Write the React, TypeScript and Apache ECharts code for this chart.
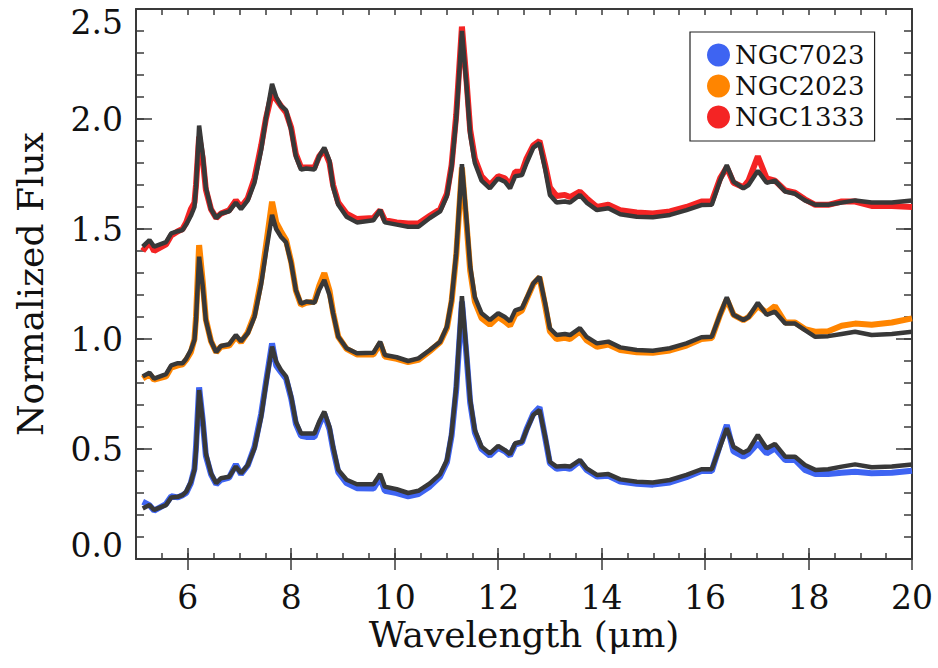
import React, { useEffect, useRef } from 'react';
import * as echarts from 'echarts';

// Wavelength grid (micron) shared by all spectra
const WAVELENGTH = [
  5.13, 5.26, 5.35, 5.58, 5.68, 5.81, 5.90, 5.97, 6.06, 6.13,
  6.16, 6.22, 6.29, 6.35, 6.45, 6.55, 6.64, 6.80, 6.93, 7.03,
  7.16, 7.29, 7.42, 7.51, 7.63, 7.71, 7.80, 7.90, 8.00, 8.09,
  8.19, 8.29, 8.45, 8.54, 8.64, 8.74, 8.81, 8.91, 9.07, 9.27,
  9.59, 9.72, 9.81, 10.04, 10.26, 10.46, 10.68, 10.88, 11.01, 11.10,
  11.19, 11.30, 11.39, 11.46, 11.55, 11.68, 11.84, 12.00, 12.13, 12.23,
  12.33, 12.46, 12.55, 12.68, 12.80, 12.91, 13.00, 13.13, 13.29, 13.39,
  13.58, 13.71, 13.91, 14.13, 14.36, 14.68, 14.99, 15.32, 15.64, 15.93,
  16.13, 16.29, 16.42, 16.55, 16.74, 16.84, 17.02, 17.19, 17.35, 17.55,
  17.74, 17.93, 18.13, 18.38, 18.64, 18.90, 19.22, 19.61, 20.0,
];

// Observed spectra (coloured)
const NGC1333 = [
  1.40, 1.44, 1.40, 1.43, 1.47, 1.49, 1.50, 1.53, 1.59, 1.62,
  1.70, 1.92, 1.82, 1.68, 1.59, 1.55, 1.57, 1.585, 1.63, 1.60,
  1.64, 1.73, 1.88, 2.00, 2.12, 2.09, 2.06, 2.03, 1.96, 1.84,
  1.78, 1.78, 1.78, 1.83, 1.86, 1.80, 1.70, 1.62, 1.57, 1.545,
  1.55, 1.585, 1.54, 1.53, 1.525, 1.525, 1.56, 1.59, 1.66, 1.79,
  2.02, 2.42, 2.17, 1.95, 1.82, 1.74, 1.70, 1.74, 1.73, 1.70,
  1.76, 1.76, 1.82, 1.88, 1.90, 1.79, 1.69, 1.65, 1.655, 1.645,
  1.67, 1.64, 1.60, 1.61, 1.585, 1.575, 1.57, 1.58, 1.60, 1.625,
  1.625, 1.73, 1.78, 1.71, 1.69, 1.72, 1.83, 1.73, 1.72, 1.675,
  1.665, 1.635, 1.61, 1.61, 1.625, 1.625, 1.605, 1.605, 1.60,
];
const NGC2023 = [
  0.82, 0.84, 0.815, 0.83, 0.87, 0.88, 0.885, 0.905, 0.94, 1.00,
  1.10, 1.427, 1.26, 1.09, 0.99, 0.94, 0.965, 0.97, 1.01, 0.985,
  1.03, 1.11, 1.27, 1.42, 1.624, 1.53, 1.49, 1.45, 1.35, 1.22,
  1.155, 1.165, 1.17, 1.24, 1.30, 1.22, 1.12, 1.01, 0.955, 0.93,
  0.93, 0.98, 0.92, 0.91, 0.895, 0.905, 0.945, 0.985, 1.05, 1.17,
  1.38, 1.78, 1.52, 1.31, 1.17, 1.095, 1.065, 1.10, 1.08, 1.06,
  1.11, 1.13, 1.18, 1.25, 1.28, 1.15, 1.035, 1.00, 1.005, 1.00,
  1.035, 0.995, 0.965, 0.975, 0.95, 0.94, 0.937, 0.948, 0.97, 1.00,
  1.005, 1.11, 1.18, 1.11, 1.086, 1.10, 1.15, 1.12, 1.15, 1.075,
  1.075, 1.045, 1.033, 1.035, 1.06, 1.07, 1.065, 1.075, 1.094,
];
const NGC7023 = [
  0.26, 0.245, 0.22, 0.25, 0.285, 0.28, 0.29, 0.30, 0.345, 0.41,
  0.51, 0.78, 0.63, 0.47, 0.385, 0.34, 0.36, 0.37, 0.43, 0.385,
  0.425, 0.51, 0.66, 0.80, 0.98, 0.88, 0.85, 0.82, 0.73, 0.615,
  0.56, 0.555, 0.555, 0.61, 0.66, 0.59, 0.50, 0.395, 0.345, 0.322,
  0.32, 0.37, 0.31, 0.30, 0.285, 0.295, 0.33, 0.375, 0.44, 0.56,
  0.77, 1.17, 0.92, 0.71, 0.575, 0.50, 0.47, 0.505, 0.49, 0.47,
  0.52, 0.53, 0.59, 0.66, 0.69, 0.55, 0.435, 0.41, 0.415, 0.41,
  0.445, 0.405, 0.375, 0.378, 0.352, 0.342, 0.338, 0.348, 0.372, 0.40,
  0.40, 0.52, 0.609, 0.489, 0.465, 0.48, 0.526, 0.48, 0.503, 0.45,
  0.45, 0.405, 0.386, 0.386, 0.392, 0.397, 0.39, 0.392, 0.401,
];

// Model fits (dark overlays)
const MODEL_1333 = [
  1.42, 1.45, 1.42, 1.44, 1.48, 1.49, 1.495, 1.52, 1.56, 1.60,
  1.69, 1.97, 1.84, 1.69, 1.59, 1.55, 1.57, 1.58, 1.62, 1.59,
  1.63, 1.71, 1.86, 2.00, 2.16, 2.10, 2.06, 2.04, 1.95, 1.83,
  1.77, 1.775, 1.77, 1.83, 1.87, 1.81, 1.69, 1.61, 1.556, 1.53,
  1.54, 1.586, 1.53, 1.52, 1.51, 1.51, 1.55, 1.58, 1.65, 1.78,
  2.00, 2.40, 2.15, 1.93, 1.80, 1.72, 1.685, 1.73, 1.715, 1.685,
  1.74, 1.745, 1.80, 1.87, 1.89, 1.77, 1.655, 1.62, 1.625, 1.62,
  1.655, 1.62, 1.586, 1.594, 1.567, 1.556, 1.553, 1.564, 1.586, 1.609,
  1.61, 1.72, 1.79, 1.715, 1.685, 1.70, 1.765, 1.71, 1.72, 1.67,
  1.66, 1.63, 1.61, 1.61, 1.62, 1.63, 1.62, 1.62, 1.63,
];
const MODEL_2023 = [
  0.83, 0.847, 0.82, 0.84, 0.88, 0.89, 0.89, 0.91, 0.95, 0.995,
  1.086, 1.374, 1.24, 1.086, 0.99, 0.94, 0.968, 0.976, 1.018, 0.99,
  1.026, 1.10, 1.25, 1.39, 1.564, 1.50, 1.465, 1.44, 1.344, 1.223,
  1.16, 1.17, 1.165, 1.223, 1.268, 1.20, 1.117, 1.01, 0.958, 0.935,
  0.938, 0.988, 0.927, 0.917, 0.90, 0.912, 0.95, 0.988, 1.056, 1.177,
  1.39, 1.795, 1.54, 1.33, 1.19, 1.117, 1.086, 1.117, 1.10, 1.08,
  1.13, 1.14, 1.185, 1.253, 1.283, 1.162, 1.049, 1.018, 1.023, 1.018,
  1.049, 1.01, 0.98, 0.988, 0.962, 0.95, 0.947, 0.958, 0.98, 1.008,
  1.01, 1.11, 1.19, 1.11, 1.086, 1.10, 1.165, 1.11, 1.124, 1.07,
  1.07, 1.04, 1.01, 1.013, 1.023, 1.033, 1.018, 1.023, 1.033,
];
const MODEL_7023 = [
  0.23, 0.245, 0.223, 0.245, 0.28, 0.283, 0.29, 0.306, 0.35, 0.405,
  0.495, 0.768, 0.63, 0.48, 0.39, 0.344, 0.367, 0.374, 0.42, 0.39,
  0.427, 0.503, 0.647, 0.79, 0.965, 0.897, 0.86, 0.83, 0.738, 0.624,
  0.571, 0.571, 0.571, 0.624, 0.67, 0.60, 0.51, 0.405, 0.36, 0.34,
  0.34, 0.386, 0.329, 0.317, 0.30, 0.31, 0.344, 0.386, 0.45, 0.571,
  0.783, 1.195, 0.935, 0.723, 0.586, 0.51, 0.48, 0.514, 0.495, 0.476,
  0.526, 0.533, 0.586, 0.655, 0.677, 0.556, 0.442, 0.42, 0.423, 0.42,
  0.45, 0.412, 0.382, 0.386, 0.362, 0.351, 0.348, 0.359, 0.382, 0.408,
  0.408, 0.51, 0.594, 0.51, 0.483, 0.495, 0.564, 0.503, 0.523, 0.465,
  0.465, 0.427, 0.405, 0.408, 0.42, 0.43, 0.417, 0.42, 0.43,
];

// Integer positions along the wavelength axis (major ticks / labels on even ones)
const X_MAJOR_TICKS = ['5', '6', '7', '8', '9', '10', '11', '12', '13', '14', '15', '16', '17', '18', '19', '20'];

const FONT = 'DejaVu Serif';
const FRAME = '#3a3a3a';
const TEXT = '#111111';
const DARK = '#383838';

export default function App() {
  const ref = useRef<HTMLDivElement>(null);

  useEffect(() => {
    document.body.style.margin = '0';
    const chart = echarts.init(ref.current as HTMLDivElement, null, { renderer: 'svg' });
    const pair = (ys: number[]) => WAVELENGTH.map((x, i) => [x, ys[i]]);
    const isEven = (_i: number, v: string) => Number(v) % 2 === 0;

    const valueX = (pos: 'bottom' | 'top', withName: boolean) => ({
      type: 'value',
      position: pos,
      min: 5,
      max: 20,
      interval: 0.5,
      name: withName ? 'Wavelength (μm)' : '',
      nameLocation: 'middle',
      nameGap: 61,
      nameTextStyle: { fontFamily: FONT, fontSize: 36, color: TEXT, lineHeight: 28 },
      axisLine: { show: true, onZero: false, lineStyle: { color: FRAME, width: 2 } },
      axisTick: { show: true, inside: true, length: 6, lineStyle: { color: FRAME, width: 1.5 } },
      axisLabel: { show: false },
      splitLine: { show: false },
    });
    const majorX = (pos: 'bottom' | 'top', labels: boolean) => ({
      type: 'category',
      position: pos,
      data: X_MAJOR_TICKS,
      boundaryGap: false,
      axisLine: { show: false },
      axisTick: { show: true, inside: true, length: 11, interval: isEven, lineStyle: { color: FRAME, width: 1.5 } },
      axisLabel: {
        show: labels,
        interval: isEven,
        margin: 26,
        fontFamily: FONT,
        fontSize: 33,
        lineHeight: 25,
        color: TEXT,
      },
      splitLine: { show: false },
    });
    const minorY = (pos: 'left' | 'right') => ({
      type: 'value',
      position: pos,
      min: 0,
      max: 2.5,
      interval: 0.1,
      axisLine: { show: true, onZero: false, lineStyle: { color: FRAME, width: 2 } },
      axisTick: { show: true, inside: true, length: 8, lineStyle: { color: FRAME, width: 1.5 } },
      axisLabel: { show: false },
      splitLine: { show: false },
    });
    const majorY = (pos: 'left' | 'right', labels: boolean) => ({
      type: 'value',
      position: pos,
      min: 0,
      max: 2.5,
      interval: 0.5,
      name: labels ? 'Normalized Flux' : '',
      nameLocation: 'middle',
      nameGap: 88,
      nameTextStyle: { fontFamily: FONT, fontSize: 36, color: TEXT },
      axisLine: { show: false },
      axisTick: { show: true, inside: true, length: 16, lineStyle: { color: FRAME, width: 1.5 } },
      axisLabel: {
        show: labels,
        margin: 13,
        fontFamily: FONT,
        fontSize: 33,
        color: TEXT,
        formatter: (v: number) => {
          const s = v.toFixed(1);
          if (v === 0) return '{lo|' + s + '}';
          if (v === 2.5) return '{hi|' + s + '}';
          return s;
        },
        rich: {
          lo: { fontFamily: FONT, fontSize: 33, color: TEXT, padding: [0, 0, 28, 0] },
          hi: { fontFamily: FONT, fontSize: 33, color: TEXT, padding: [26, 0, 0, 0] },
        },
      },
      splitLine: { show: false },
    });

    const observed = (name: string, ys: number[], color: string) => ({
      name,
      type: 'line',
      xAxisIndex: 0,
      yAxisIndex: 0,
      data: pair(ys),
      showSymbol: false,
      symbol: 'circle',
      silent: true,
      z: 2,
      itemStyle: { color },
      lineStyle: { color, width: 6 },
    });
    const model = (name: string, ys: number[]) => ({
      name,
      type: 'line',
      xAxisIndex: 0,
      yAxisIndex: 0,
      data: pair(ys),
      showSymbol: false,
      silent: true,
      z: 3,
      itemStyle: { color: DARK },
      lineStyle: { color: DARK, width: 4.5 },
    });

    chart.setOption({
      animation: false,
      backgroundColor: '#ffffff',
      grid: { left: 136, right: 26, top: 9, bottom: 109, containLabel: false },
      xAxis: [valueX('bottom', true), majorX('bottom', true), valueX('top', false), majorX('top', false)],
      yAxis: [minorY('left'), majorY('left', true), minorY('right'), majorY('right', false)],
      legend: {
        show: true,
        data: ['NGC7023', 'NGC2023', 'NGC1333'],
        orient: 'vertical',
        left: 690,
        top: 32,
        icon: 'circle',
        itemWidth: 23,
        itemHeight: 23,
        itemGap: 5,
        padding: [10, 10, 11, 17],
        borderColor: '#222222',
        borderWidth: 1.2,
        backgroundColor: '#ffffff',
        selectedMode: false,
        textStyle: { fontFamily: FONT, fontSize: 26, color: TEXT, lineHeight: 23 },
      },
      series: [
        observed('NGC7023', NGC7023, '#3e64f2'),
        observed('NGC2023', NGC2023, '#ff8500'),
        observed('NGC1333', NGC1333, '#f42424'),
        model('Model NGC7023', MODEL_7023),
        model('Model NGC2023', MODEL_2023),
        model('Model NGC1333', MODEL_1333),
      ],
    });

    return () => {
      chart.dispose();
    };
  }, []);

  return <div ref={ref} style={{ width: 938, height: 668 }} />;
}
